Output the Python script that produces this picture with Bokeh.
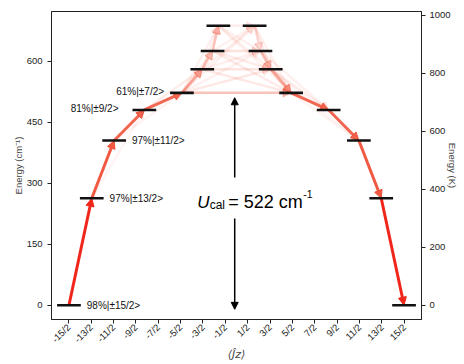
from bokeh.plotting import figure
from bokeh.models import (Range1d, LinearAxis, FixedTicker, Arrow, NormalHead,
                          Label, ColumnDataSource)
from bokeh.embed import file_html
from bokeh.resources import INLINE
from math import pi

# ---------------- data ----------------
level_names_left = ["-15/2", "-13/2", "-11/2", "-9/2", "-7/2", "-5/2", "-3/2", "-1/2"]
level_names_right = ["15/2", "13/2", "11/2", "9/2", "7/2", "5/2", "3/2", "1/2"]
energies = [0, 263, 405, 480, 522, 580, 625, 687]          # cm^-1
jz_mean = [7.49, 6.47, 5.47, 4.12, 2.44, 1.53, 1.07, 0.81]  # |<Jz>| of each doublet

tick_values = [-7.5, -6.5, -5.5, -4.5, -3.5, -2.5, -1.5, -0.5,
               0.5, 1.5, 2.5, 3.5, 4.5, 5.5, 6.5, 7.5]
tick_labels = ["-15/2", "-13/2", "-11/2", "-9/2", "-7/2", "-5/2", "-3/2", "-1/2",
               "1/2", "3/2", "5/2", "7/2", "9/2", "11/2", "13/2", "15/2"]
left_ticks = [0, 150, 300, 450, 600]
right_ticks = [0, 200, 400, 600, 800, 1000]

trans_from = ["-13/2", "-11/2", "-9/2", "-7/2", "-5/2", "-7/2", "-7/2", "-5/2", "-3/2",
              "-7/2", "-7/2", "-5/2", "-3/2", "-3/2", "-5/2", "-1/2", "-1/2", "-3/2",
              "1/2", "3/2", "1/2", "5/2", "3/2", "7/2", "5/2",
              "-5/2", "-3/2", "-1/2", "1/2", "3/2",
              "-7/2", "-5/2", "-3/2", "-1/2",
              "-15/2", "-13/2", "-11/2", "-9/2", "-7/2",
              "7/2", "9/2", "11/2", "13/2", "5/2"]
trans_to = ["-9/2", "-7/2", "-5/2", "-3/2", "-1/2", "-1/2", "5/2", "7/2", "7/2",
            "3/2", "1/2", "3/2", "5/2", "1/2", "1/2", "5/2", "3/2", "-1/2",
            "5/2", "7/2", "7/2", "9/2", "9/2", "11/2", "11/2",
            "5/2", "3/2", "1/2", "3/2", "5/2",
            "-5/2", "-3/2", "-1/2", "7/2",
            "-13/2", "-11/2", "-9/2", "-7/2", "7/2",
            "9/2", "11/2", "13/2", "15/2", "7/2"]
trans_weight = [0.05, 0.06, 0.1, 0.1, 0.08, 0.08, 0.12, 0.12, 0.1,
                0.08, 0.08, 0.08, 0.1, 0.08, 0.08, 0.08, 0.08, 0.15,
                0.1, 0.1, 0.08, 0.1, 0.08, 0.06, 0.05,
                0.15, 0.15, 0.1, 0.2, 0.3,
                0.45, 0.3, 0.2, 0.06,
                1.0, 0.88, 0.82, 0.8, 0.32,
                0.8, 0.82, 0.88, 1.0, 0.45]

state_label_level = ["-15/2", "-13/2", "-11/2", "-9/2", "-7/2"]
state_label_text = ["98%|\u00b115/2>", "97%|\u00b113/2>", "97%|\u00b111/2>",
                    "81%|\u00b19/2>", "61%|\u00b17/2>"]
state_label_side = ["right", "right", "right", "left", "left"]

U_cal = 522

# ---------------- geometry helpers ----------------
pos = {}
for n, j, e in zip(level_names_left, jz_mean, energies):
    pos[n] = (-j, e)
for n, j, e in zip(level_names_right, jz_mean, energies):
    pos[n] = (j, e)

HW = 0.53  # half bar width (x units)
X0, X1, Y0, Y1 = -8.27, 8.27, -35, 722

p = figure(width=464, height=364, output_backend="svg", toolbar_location=None,
           x_range=Range1d(X0, X1), y_range=Range1d(Y0, Y1),
           min_border_left=51, min_border_right=43, min_border_top=11,
           min_border_bottom=45)
p.background_fill_color = "white"
p.border_fill_color = "white"
p.outline_line_color = "#222222"
p.outline_line_width = 1
p.xgrid.visible = False
p.ygrid.visible = False

FONT = "Liberation Sans"

# x axis
xa = p.xaxis[0]
xa.ticker = FixedTicker(ticks=tick_values)
xa.major_label_overrides = {v: t for v, t in zip(tick_values, tick_labels)}
xa.major_label_orientation = pi / 4
xa.major_label_standoff = 2
xa.minor_tick_line_color = None
xa.major_tick_out = 4
xa.major_tick_in = 0
xa.major_label_text_font = FONT
xa.major_label_text_font_size = "9.5px"
xa.major_label_text_color = "#222222"
xa.axis_label = "\u27e8\u0134z\u27e9"
xa.axis_label_text_font = "DejaVu Sans"
xa.axis_label_text_font_style = "italic"
xa.axis_label_text_font_size = "11px"
xa.axis_label_standoff = -4
xa.axis_line_color = "#222222"
xa.major_tick_line_color = "#222222"

# left axis
ya = p.yaxis[0]
ya.ticker = FixedTicker(ticks=left_ticks)
ya.minor_tick_line_color = None
ya.major_tick_out = 4
ya.major_tick_in = 0
ya.major_label_standoff = 5
ya.major_label_text_font = FONT
ya.major_label_text_font_size = "9.5px"
ya.major_label_text_color = "#222222"
ya.axis_label = "Energy (cm\u207b\u00b9)"
ya.axis_label_text_font = FONT
ya.axis_label_text_font_style = "normal"
ya.axis_label_text_font_size = "9.5px"
ya.axis_label_standoff = 0
ya.axis_line_color = "#222222"
ya.major_tick_line_color = "#222222"

# right axis (Kelvin)
p.extra_y_ranges = {"K": Range1d(-49.3, 1012.8)}
ra = LinearAxis(y_range_name="K", ticker=FixedTicker(ticks=right_ticks))
ra.minor_tick_line_color = None
ra.major_tick_out = 4
ra.major_tick_in = 0
ra.major_label_standoff = 4
ra.major_label_text_font = FONT
ra.major_label_text_font_size = "9.5px"
ra.major_label_text_color = "#222222"
ra.axis_label = "Energy (K)"
ra.axis_label_text_font = FONT
ra.axis_label_text_font_style = "normal"
ra.axis_label_text_font_size = "9.5px"
ra.axis_label_standoff = -7
ra.axis_line_color = "#222222"
ra.major_tick_line_color = "#222222"
p.add_layout(ra, "right")

# ---------------- transitions ----------------
order = sorted(range(len(trans_weight)), key=lambda i: trans_weight[i])
for i in order:
    w = trans_weight[i]
    x0, y0 = pos[trans_from[i]]
    x1, y1 = pos[trans_to[i]]
    col = "#f0261b" if w >= 0.95 else "#ee4329"
    lw = 3 if w >= 0.4 else 2.5
    head = NormalHead(size=8, fill_color=col, fill_alpha=w, line_color=col,
                      line_alpha=w, line_width=1)
    arr = Arrow(end=head, x_start=x0, y_start=y0, x_end=x1, y_end=y1,
                line_color=col, line_alpha=w, line_width=lw, level="underlay")
    p.add_layout(arr)

# ---------------- energy levels ----------------
bx = [-j for j in jz_mean] + [j for j in jz_mean]
by = energies + energies
bars = ColumnDataSource(dict(x0=[x - HW for x in bx], x1=[x + HW for x in bx],
                             y=by))
p.segment(x0="x0", y0="y", x1="x1", y1="y", source=bars,
          line_color="#111111", line_width=2.6)

# ---------------- state labels ----------------
for lvl, txt, side in zip(state_label_level, state_label_text, state_label_side):
    x, y = pos[lvl]
    if side == "right":
        lab = Label(x=x + HW, y=y, x_offset=6, text=txt, text_align="left",
                    text_baseline="middle")
    else:
        off = -14 if lvl == "-9/2" else -6
        lab = Label(x=x - HW, y=y, x_offset=off, y_offset=1, text=txt,
                    text_align="right", text_baseline="middle")
    lab.text_font = FONT
    lab.text_font_size = "10px"
    lab.text_color = "#111111"
    p.add_layout(lab)

# ---------------- barrier arrow & text ----------------
bar_x = -0.08
p.add_layout(Arrow(end=NormalHead(size=7, fill_color="black", line_color="black"),
                   x_start=bar_x, y_start=314, x_end=bar_x, y_end=U_cal - 12,
                   line_color="black", line_width=1.5))
p.add_layout(Arrow(end=NormalHead(size=7, fill_color="black", line_color="black"),
                   x_start=bar_x, y_start=213, x_end=bar_x, y_end=-10,
                   line_color="black", line_width=1.5))

tx, ty = -1.76, 253
for txt, xo, yo, fs, style in [("U", 0, 0, "17px", "italic"),
                               ("cal", 12.5, -3, "12px", "normal"),
                               ("= %d cm" % U_cal, 31, 0, "18px", "normal"),
                               ("-1", 106, 8, "10.5px", "normal")]:
    p.add_layout(Label(x=tx, y=ty, x_offset=xo, y_offset=yo, text=txt,
                       text_font=FONT, text_font_size=fs, text_font_style=style,
                       text_baseline="alphabetic", text_align="left",
                       text_color="black"))

open("out.html", "w").write(file_html(p, INLINE))
